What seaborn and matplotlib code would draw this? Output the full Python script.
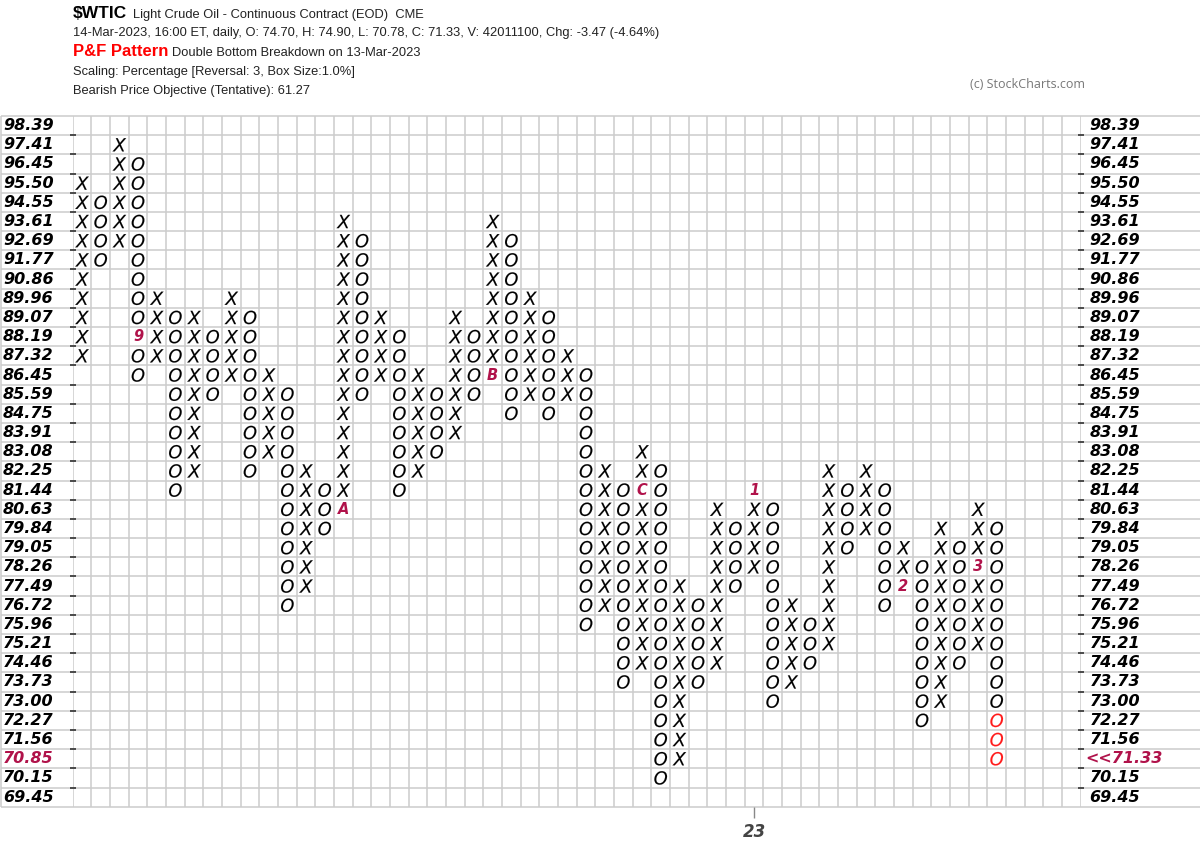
import matplotlib
matplotlib.use("Agg")
import numpy as np
import pandas as pd
import matplotlib.pyplot as plt
import seaborn as sns

# price levels of the P&F grid, top to bottom
levels = [98.39, 97.41, 96.45, 95.50, 94.55, 93.61, 92.69, 91.77, 90.86, 89.96,
          89.07, 88.19, 87.32, 86.45, 85.59, 84.75, 83.91, 83.08, 82.25, 81.44,
          80.63, 79.84, 79.05, 78.26, 77.49, 76.72, 75.96, 75.21, 74.46, 73.73,
          73.00, 72.27, 71.56, 70.85, 70.15, 69.45]

# one entry per column: box type, highest box, lowest box
col_types = ["X", "O"] * 25
col_tops = [95.50, 94.55, 97.41, 96.45, 89.96, 89.07, 89.07, 88.19, 89.96, 89.07,
            86.45, 85.59, 82.25, 81.44, 93.61, 92.69, 89.07, 88.19, 86.45, 85.59,
            89.07, 88.19, 93.61, 92.69, 89.96, 89.07, 87.32, 86.45, 82.25, 81.44,
            83.08, 82.25, 77.49, 76.72, 80.63, 79.84, 81.44, 80.63, 76.72, 75.96,
            82.25, 81.44, 82.25, 81.44, 79.05, 78.26, 79.84, 79.05, 80.63, 79.84]
col_bottoms = [87.32, 91.77, 92.69, 86.45, 87.32, 81.44, 82.25, 85.59, 86.45, 82.25,
               83.08, 76.72, 77.49, 79.84, 80.63, 85.59, 86.45, 81.44, 82.25, 83.08,
               83.91, 85.59, 86.45, 84.75, 85.59, 84.75, 85.59, 75.96, 76.72, 73.73,
               74.46, 70.15, 70.85, 73.73, 74.46, 77.49, 78.26, 73.00, 73.73, 74.46,
               75.21, 79.05, 79.84, 76.72, 77.49, 72.27, 73.00, 74.46, 75.21, 70.85]

# month markers that replace a box (column, price, label)
month_cols = [3, 14, 22, 30, 36, 44, 48]
month_prices = [88.19, 80.63, 86.45, 81.44, 81.44, 77.49, 78.26]
month_labels = ["9", "A", "B", "C", "1", "2", "3"]

# boxes added in the latest session
new_col = 49
new_prices = [72.27, 71.56, 70.85]

last_price_level = 70.85
last_price_label = "<<71.33"
year_col = 36
year_label = "23"

n_rows = len(levels)
n_cols = 54
marks = set(zip(month_cols, month_prices))

recs = []
for c, (t, top, bot) in enumerate(zip(col_types, col_tops, col_bottoms)):
    for i in range(levels.index(top), levels.index(bot) + 1):
        if (c, levels[i]) in marks:
            continue
        grp = "new" if (c == new_col and levels[i] in new_prices) else "old"
        recs.append({"col": c, "y": n_rows - 1 - i, "box": t, "grp": grp})
df = pd.DataFrame(recs)

sns.set_style("white")
plt.rcParams["font.family"] = ["DejaVu Sans"]

W, H = 1200, 864
gx0, gx1, gy0, gy1 = 72.7, 1080.7, 116.0, 806.7
cw = (gx1 - gx0) / n_cols

fig = plt.figure(figsize=(12, 8.64), dpi=100)
ax = fig.add_axes([gx0 / W, 1 - gy1 / H, (gx1 - gx0) / W, (gy1 - gy0) / H])

grid_c = "#cccccc"
x_left = -0.5 - (gx0 - 1) / cw
x_right = n_cols - 0.5 + (W - gx1) / cw
ax.hlines(np.arange(-0.5, n_rows), x_left, x_right, color=grid_c, lw=1.1,
          clip_on=False, zorder=0)
ax.vlines(np.arange(-0.5, n_cols), -0.5, n_rows - 0.5, color=grid_c, lw=1.1, zorder=0)
ax.vlines([x_left], -0.5, n_rows - 0.5, color=grid_c, lw=1.1, clip_on=False, zorder=0)

sns.scatterplot(data=df, x="col", y="y", style="box", markers={"X": "$X$", "O": "$O$"},
                hue="grp", palette={"old": "black", "new": "#ff1a1a"}, s=95,
                edgecolor="face", linewidth=0.1, legend=False, ax=ax, zorder=3)

for c, p, lab in zip(month_cols, month_prices, month_labels):
    ax.text(c, n_rows - 1 - levels.index(p), lab, color="#b0124a", fontsize=10.5,
            fontweight="bold", style="italic", ha="center", va="center")

# price labels on both sides
lab_kw = dict(fontsize=11.5, fontweight="bold", style="italic", va="center")
for i, lv in enumerate(levels):
    y = n_rows - 1 - i
    col = "#b0124a" if lv == last_price_level else "black"
    ax.text(-0.5 - (gx0 - 3) / cw, y, f"{lv:.2f}", color=col, ha="left", **lab_kw)
    if lv == last_price_level:
        ax.text(n_cols - 0.5 + 5 / cw, y, last_price_label, color="#b0124a", ha="left", **lab_kw)
    else:
        ax.text(n_cols - 0.5 + 9 / cw, y, f"{lv:.2f}", color="black", ha="left", **lab_kw)

ax.set_xlim(-0.5, n_cols - 0.5)
ax.set_ylim(-0.5, n_rows - 0.5)
for s in ax.spines.values():
    s.set_visible(False)
ax.set_xlabel("")
ax.set_ylabel("")
ax.set_yticks(np.arange(0.5, n_rows - 1))
ax.set_yticklabels([])
ax.tick_params(axis="y", left=True, right=True, length=4, width=1.2, color="#333333",
               direction="inout")
ax.set_xticks([year_col])
ax.set_xticklabels([year_label])
ax.tick_params(axis="x", bottom=True, length=8, width=1, color="#888888", pad=4,
               labelsize=12, labelcolor="#444444")
for t in ax.get_xticklabels():
    t.set_fontstyle("italic")
    t.set_fontweight("bold")

# header
narrow = ["Liberation Sans Narrow", "Liberation Sans", "DejaVu Sans"]
def ftxt(x, y, s, **kw):
    fig.text(x / W, 1 - y / H, s, va="center", ha="left", family=narrow, **kw)

ftxt(73, 14, "$WTIC", fontsize=12.5, fontweight="bold", color="black")
ftxt(133, 15, "Light Crude Oil - Continuous Contract (EOD)  CME", fontsize=9.3, color="#222222")
ftxt(73, 33, "14-Mar-2023, 16:00 ET, daily, O: 74.70, H: 74.90, L: 70.78, C: 71.33, "
     "V: 42011100, Chg: -3.47 (-4.64%)", fontsize=9.3, color="#222222")
ftxt(73, 52, "P&F Pattern", fontsize=12, fontweight="bold", color="#ff0000")
ftxt(172, 53, "Double Bottom Breakdown on 13-Mar-2023", fontsize=9.3, color="#222222")
ftxt(73, 72, "Scaling: Percentage [Reversal: 3, Box Size:1.0%]", fontsize=9.3, color="#222222")
ftxt(73, 91, "Bearish Price Objective (Tentative): 61.27", fontsize=9.3, color="#222222")
fig.text(970 / W, 1 - 85 / H, "(c) StockCharts.com", va="center", ha="left",
         fontsize=9, color="#777777", family=["Open Sans", "DejaVu Sans"])

fig.savefig("out.png", dpi=100)
